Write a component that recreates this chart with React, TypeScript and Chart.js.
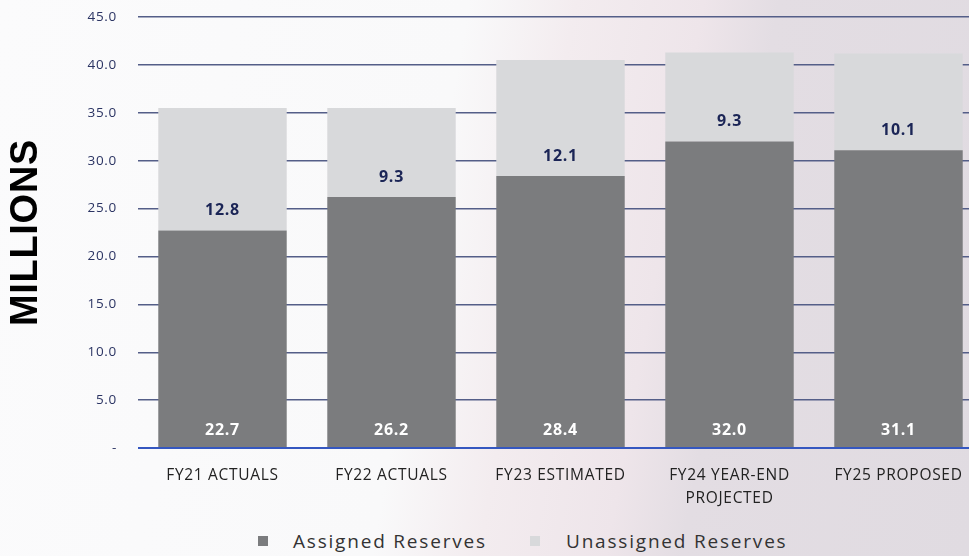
import React, { useEffect, useRef } from 'react';
import { Chart, registerables } from 'chart.js';

Chart.register(...registerables);

const categories: string[][] = [
  ['FY21 ACTUALS'],
  ['FY22 ACTUALS'],
  ['FY23 ESTIMATED'],
  ['FY24 YEAR-END', 'PROJECTED'],
  ['FY25 PROPOSED'],
];
const assigned = [22.7, 26.2, 28.4, 32.0, 31.1];
const unassigned = [12.8, 9.3, 12.1, 9.3, 10.1];
const seriesNames = ['Assigned Reserves', 'Unassigned Reserves'];
const seriesColors = ['#7b7c7e', '#d8d9db'];
const yMin = 0;
const yMax = 45;
const yStep = 5;
const yTitle = 'MILLIONS';

const spacing = {
  id: 'spacing',
  beforeDraw(chart: any) {
    chart.ctx.letterSpacing = '0.7px';
  },
  afterDraw(chart: any) {
    chart.ctx.letterSpacing = '0px';
  },
};

const segLabels = {
  id: 'segLabels',
  afterDatasetsDraw(chart: any) {
    const ctx = chart.ctx;
    ctx.save();
    ctx.textAlign = 'center';
    ctx.textBaseline = 'middle';
    ctx.font = 'bold 16px "Open Sans"';
    chart.data.datasets.forEach((ds: any, di: number) => {
      const meta = chart.getDatasetMeta(di);
      meta.data.forEach((el: any, i: number) => {
        const { x, base } = el.getProps(['x', 'base'], true);
        const v = Number(ds.data[i]);
        if (di === 0) {
          ctx.fillStyle = '#ffffff';
          ctx.fillText(v.toFixed(1), x, base - 17);
        } else {
          ctx.fillStyle = '#1b2556';
          ctx.fillText(v.toFixed(1), x, base - 20);
        }
      });
    });
    ctx.restore();
  },
};

export default function App() {
  const ref = useRef<HTMLCanvasElement | null>(null);

  useEffect(() => {
    if (!ref.current) return;
    const chart = new Chart(ref.current, {
      type: 'bar',
      data: {
        labels: categories as any,
        datasets: [
          {
            label: seriesNames[0],
            data: assigned,
            backgroundColor: seriesColors[0],
            barPercentage: 0.76,
            categoryPercentage: 1,
          },
          {
            label: seriesNames[1],
            data: unassigned,
            backgroundColor: seriesColors[1],
            barPercentage: 0.76,
            categoryPercentage: 1,
          },
        ],
      },
      options: {
        responsive: false,
        animation: false,
        devicePixelRatio: 1,
        layout: { padding: { top: 0, right: 1, left: 0, bottom: 0 } },
        plugins: {
          legend: { display: false },
          tooltip: { enabled: false },
        },
        scales: {
          x: {
            stacked: true,
            grid: { display: false, drawTicks: false },
            border: { display: false },
            ticks: {
              color: '#222222',
              font: { family: 'Open Sans', size: 15.5, lineHeight: 1.5 },
              padding: 16,
              maxRotation: 0,
              autoSkip: false,
            },
            afterFit: (s: any) => {
              s.height = 60;
            },
          },
          y: {
            stacked: true,
            min: yMin,
            max: yMax,
            ticks: {
              stepSize: yStep,
              padding: 21,
              color: '#2b3463',
              font: { family: 'Open Sans', size: 13.5 },
              callback: (v: any) => (Number(v) === 0 ? '-' : Number(v).toFixed(1)),
            },
            grid: {
              color: (c: any) => (c.tick && c.tick.value === 0 ? '#3557c0' : '#545e88'),
              lineWidth: (c: any) => (c.tick && c.tick.value === 0 ? 2 : 1.4),
              drawTicks: false,
            },
            border: { display: false },
            title: {
              display: true,
              text: yTitle,
              color: '#000000',
              font: { family: 'Liberation Sans', weight: 'bold', size: 38 },
              padding: { top: 4, bottom: 0 },
            },
            afterFit: (s: any) => {
              s.width = 138;
              s.paddingTop = 17;
              s.paddingBottom = 0;
            },
          },
        },
      },
      plugins: [spacing, segLabels],
    });
    return () => chart.destroy();
  }, []);

  const legendText: React.CSSProperties = {
    position: 'absolute',
    top: 528,
    fontFamily: '"Open Sans"',
    fontSize: 19,
    letterSpacing: '1.8px',
    color: '#333333',
    whiteSpace: 'nowrap',
    lineHeight: '26px',
  };
  const marker = (c: string, left: number): React.CSSProperties => ({
    position: 'absolute',
    left,
    top: 536,
    width: 10,
    height: 10,
    background: c,
  });

  return (
    <div
      style={{
        position: 'fixed',
        left: 0,
        top: 0,
        width: 969,
        height: 556,
        overflow: 'hidden',
        background:
          'linear-gradient(100deg, #fbfbfc 0%, #f9f9fa 44%, #f3ecef 54%, #eee5ea 66%, #e3dde3 73%, #e0dbe1 100%)',
      }}
    >
      <canvas ref={ref} width={984} height={508} style={{ position: 'absolute', left: 0, top: 0 }} />
      <div style={marker(seriesColors[0], 258)} />
      <div style={{ ...legendText, left: 293 }}>{seriesNames[0]}</div>
      <div style={marker(seriesColors[1], 530)} />
      <div style={{ ...legendText, left: 566 }}>{seriesNames[1]}</div>
    </div>
  );
}
